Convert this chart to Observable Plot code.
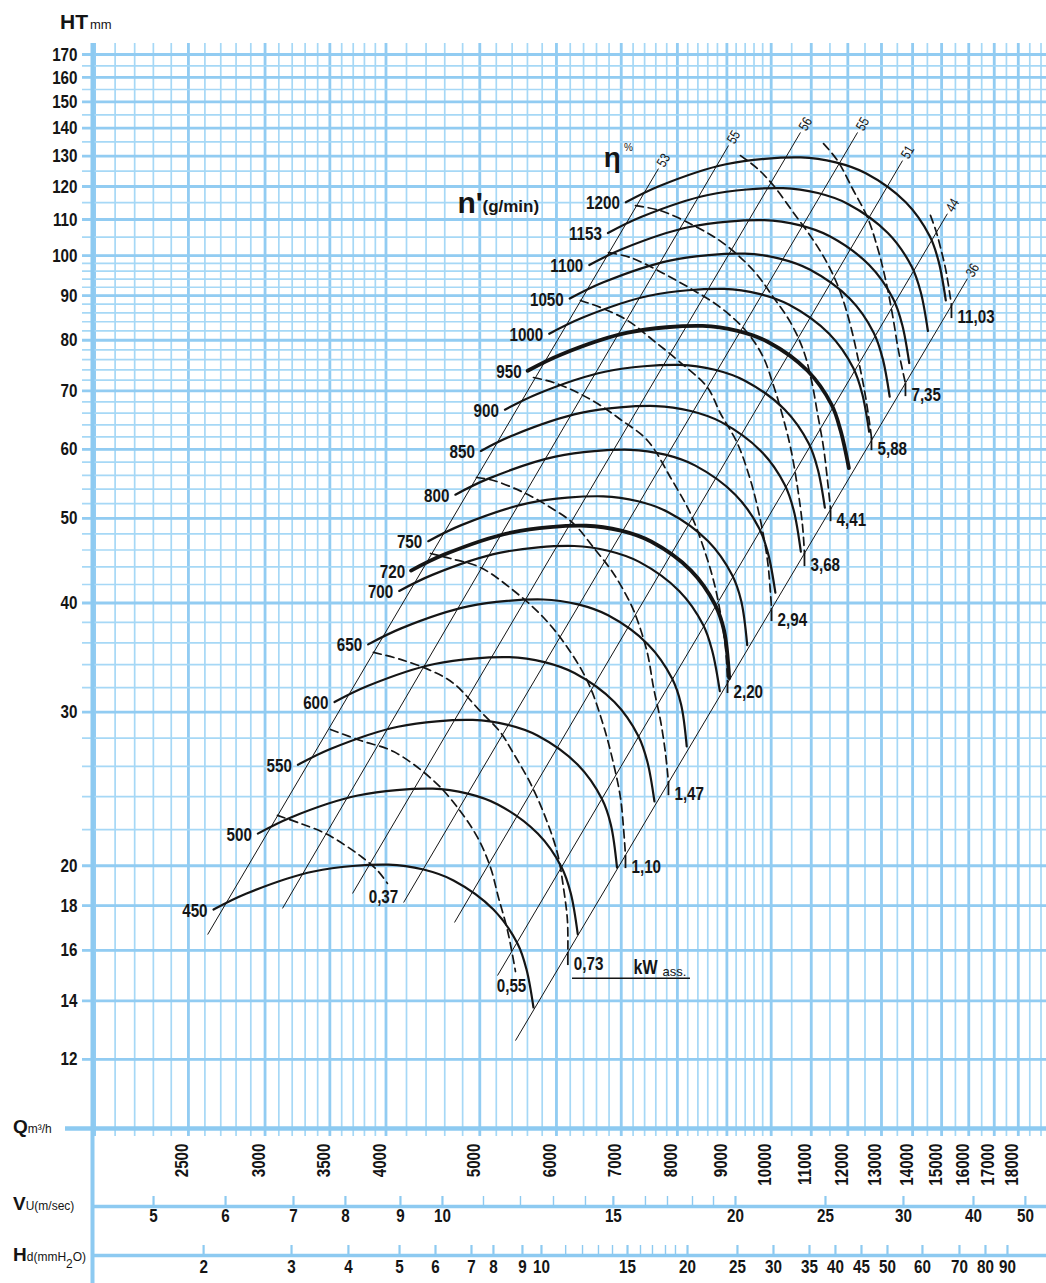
<!DOCTYPE html>
<html>
<head>
<meta charset="utf-8">
<script src="https://cdn.jsdelivr.net/npm/d3@7"></script>
<script src="https://cdn.jsdelivr.net/npm/@observablehq/plot@0.6"></script>
<style>
  html,body{margin:0;padding:0;background:#fff;}
  #wrap{position:relative;width:1046px;height:1283px;overflow:hidden;background:#fff;}
  #wrap svg{position:absolute;left:0;top:0;}
  .lab{position:absolute;z-index:2;color:#141414;white-space:nowrap;font-family:"Liberation Sans","DejaVu Sans",sans-serif;font-weight:bold;line-height:1;}
  .lab span{font-weight:normal;font-size:12px;}
</style>
</head>
<body>
<div id="wrap">
  <div class="lab" style="left:60px;top:11px;font-size:21px;">HT<span style="font-size:13px;margin-left:2px;">mm</span></div>
  <div class="lab" style="left:13px;top:1117px;font-size:19px;">Q<span>m³/h</span></div>
  <div class="lab" style="left:13px;top:1194px;font-size:19px;">V<span>U(m/sec)</span></div>
  <div class="lab" style="left:13px;top:1245px;font-size:19px;">H<span>d(mmH<sub style="font-size:12px;vertical-align:-7px;">2</sub>O)</span></div>
</div>
<script>
// ---------- axis / tick values ----------
const qLabels = [2500,3000,3500,4000,5000,6000,7000,8000,9000,10000,11000,12000,13000,14000,15000,16000,17000,18000];
const hLabels = [12,14,16,18,20,30,40,50,60,70,80,90,100,110,120,130,140,150,160,170];
const qGridMinor = d3.range(2000,4000,100).concat(d3.range(4000,10000,200), d3.range(10000,19500,500));
const qGridMajor = [2000,2500,3000,3500,4000,5000,6000,7000,8000,9000,10000,11000,12000,13000,14000,15000,16000,17000,18000];
const hGridMinor = d3.range(12,100,2).concat(d3.range(100,175,5));

// secondary scales below the chart (value -> position on the Q scale)
const vuValues = [5,6,7,8,9,10,11,12,13,14,15,16,17,18,19,20,25,30,40,50];
const vuQ      = [2301,2731,3210,3632,4140,4575,5044,5508,5958,6429,6870,7415,7814,8293,8718,9186,11379,13698,16181,18307];
const vuShown  = [5,6,7,8,9,10,15,20,25,30,40,50];
const hdValues = [2,3,4,5,6,7,8,9,10,11,12,13,14,15,16,17,18,19,20,25,30,35,40,45,50,60,70,80,90];
const hdQ      = [2592,3195,3658,4131,4500,4902,5165,5534,5790,6133,6384,6631,6856,7105,7328,7540,7777,7964,8195,9229,10055,10954,11652,12396,13187,14331,15650,16649,17543];
const hdShown  = [2,3,4,5,6,7,8,9,10,15,20,25,30,35,40,45,50,60,70,80,90];

// ---------- efficiency lines (eta %) ----------
const etaLabels = ["53","55","56","55","51","44","36"];
const etaQ1 = [2617,3127,3694,4171,4708,5215,5443];
const etaH1 = [16.68,17.87,18.59,18.15,17.22,14.97,12.61];
const etaQ2 = [7648,9035,10722,12281,13668,15208,15949];
const etaH2 = [125.8,133.7,138.4,138.4,128.5,111.7,94.1];

// ---------- speed curves n' (rpm): [Q m3/h, HT mm] ----------
const speedLabels = ["450","500","550","600","650","700","720","750","800","850","900","950","1000","1050","1100","1153","1200"];
const boldSpeeds = ["720","950"];
const curve450 = [[2654,17.82],[2871,18.59],[3367,19.70],[4024,20.06],[4373,19.80],[4697,19.24],[5165,17.82],[5469,16.29],[5587,15.22],[5681,13.76]];
const curve500 = [[2949,21.77],[3190,22.72],[3741,24.07],[4471,24.51],[4859,24.19],[5219,23.51],[5739,21.77],[6077,19.90],[6208,18.60],[6312,16.70]];
const curve550 = [[3244,26.10],[3509,27.23],[4115,28.86],[4918,29.38],[5345,29.00],[5741,28.18],[6313,26.10],[6684,23.86],[6829,22.29],[6930,19.90]];
const curve600 = [[3539,30.80],[3828,32.13],[4489,34.05],[5365,34.67],[5831,34.22],[6263,33.25],[6887,30.80],[7292,28.15],[7449,26.31],[7575,23.70]];
const curve650 = [[3834,35.86],[4147,37.41],[4863,39.64],[5812,40.37],[6317,39.85],[6785,38.72],[7461,35.86],[7900,32.78],[8070,30.63],[8180,27.40]];
const curve700 = [[4128,41.29],[4466,43.08],[5238,45.65],[6260,46.49],[6802,45.88],[7306,44.58],[8034,41.29],[8507,37.75],[8691,35.27],[8850,31.70]];
const curve720 = [[4246,43.57],[4594,45.45],[5387,48.16],[6438,49.04],[6997,48.41],[7515,47.04],[8264,43.57],[8750,39.83],[8939,37.21],[9050,32.80]];
const curve750 = [[4423,47.08],[4785,49.12],[5612,52.05],[6707,53.00],[7288,52.31],[7828,50.83],[8608,47.08],[9115,43.04],[9312,40.21],[9446,35.80]];
const curve800 = [[4718,53.23],[5104,55.53],[5986,58.85],[7154,59.92],[7774,59.15],[8350,57.47],[9182,53.23],[9723,48.66],[9932,45.47],[10100,41.10]];
const curve850 = [[5013,59.74],[5423,62.32],[6360,66.04],[7601,67.25],[8260,66.38],[8872,64.50],[9756,59.74],[10330,54.61],[10553,51.02],[10731,45.80]];
const curve900 = [[5308,66.60],[5742,69.48],[6734,73.62],[8048,74.97],[8746,74.00],[9394,71.90],[10330,66.60],[10938,60.88],[11174,56.88],[11362,51.43]];
const curve950 = [[5603,73.81],[6061,77.00],[7108,81.60],[8495,83.09],[9232,82.01],[9916,79.69],[10904,73.81],[11546,67.48],[11795,63.04],[12030,57.10]];
const curve1000 = [[5898,81.38],[6380,84.89],[7482,89.96],[8942,91.61],[9718,90.42],[10438,87.86],[11478,81.38],[12153,74.39],[12416,69.50],[12624,62.84]];
const curve1050 = [[6193,89.29],[6699,93.15],[7856,98.71],[9389,100.51],[10204,99.21],[10960,96.40],[12052,89.29],[12761,81.62],[13036,76.26],[13256,68.95]];
const curve1100 = [[6488,97.55],[7018,101.77],[8230,107.84],[9836,109.81],[10690,108.39],[11482,105.32],[12626,97.55],[13369,89.18],[13657,83.32],[13887,75.33]];
const curve1150 = [[6782,106.16],[7337,110.74],[8604,117.36],[10284,119.50],[11175,117.95],[12003,114.62],[13199,106.16],[13976,97.04],[14278,90.67],[14518,81.97]];
const curve1200 = [[7077,115.11],[7656,120.08],[8979,127.25],[10731,129.58],[11661,127.90],[12525,124.28],[13773,115.11],[14584,105.22],[14899,98.31],[15149,88.88]];
const speedCurves = [curve450,curve500,curve550,curve600,curve650,curve700,curve720,curve750,curve800,curve850,curve900,curve950,curve1000,curve1050,curve1100,curve1150,curve1200];

// ---------- absorbed power curves kW (dashed): [Q, HT] ----------
const kwLabels = ["0,37","0,55","0,73","1,10","1,47","2,20","2,94","3,68","4,41","5,88","7,35","11,03"];
const kw037 = [[3090,22.84],[3264,22.36],[3463,21.78],[3632,21.10],[3782,20.44],[3920,19.75],[4014,19.09]];
const kw055 = [[3505,28.65],[3764,27.83],[4072,27.03],[4478,25.04],[4742,23.32],[4973,21.55],[5129,19.91],[5227,18.39],[5341,16.86],[5443,15.13]];
const kw073 = [[3882,35.11],[4140,34.47],[4447,33.48],[4697,32.36],[5008,30.05],[5252,28.43],[5417,26.90],[5641,24.85],[5845,22.72],[6015,20.66],[6101,18.88],[6159,17.31],[6165,15.91]];
const kw110 = [[4447,45.58],[4663,44.98],[5008,43.92],[5417,41.34],[5818,38.50],[6159,35.57],[6475,32.36],[6710,28.95],[6872,26.19],[6987,23.94],[7037,22.13],[7071,20.55]];
const kw147 = [[4961,55.70],[5165,55.26],[5548,53.54],[5915,51.46],[6248,49.33],[6552,46.31],[6872,43.24],[7156,39.94],[7276,38.20],[7451,35.01],[7558,32.02],[7685,29.34],[7777,26.90],[7832,24.91]];
const kw220 = [[5681,72.51],[5958,71.56],[6307,69.70],[6663,67.35],[6987,64.91],[7451,61.41],[7870,55.70],[8253,50.65],[8512,46.31],[8718,42.45],[8864,38.91],[8970,35.57],[9013,32.61]];
const kw294 = [[6353,88.85],[6663,87.22],[7105,84.28],[7558,79.93],[8059,75.42],[8594,70.62],[8864,65.94],[9229,60.92],[9521,55.26],[9749,49.73],[9913,44.74],[9984,41.02],[10008,39.43]];
const kw368 = [[6791,100.8],[7156,99.50],[7740,95.40],[8253,91.70],[8864,87.22],[9407,82.09],[9795,76.83],[10055,70.99],[10273,65.59],[10471,60.28],[10647,54.25],[10774,49.07],[10824,45.58]];
const kw441 = [[7241,114.1],[7685,112.6],[8392,107.7],[8928,103.3],[9587,96.16],[10055,89.56],[10471,83.84],[10799,77.85],[11006,71.94],[11165,65.94],[11326,60.28],[11434,55.26],[11516,51.32]];
const kw588 = [[9296,130.2],[9679,125.8],[10055,120.3],[10544,112.0],[11058,104.1],[11460,97.43],[11792,90.74],[12076,83.18],[12308,75.82],[12485,70.06],[12604,65.59],[12694,61.90]];
const kw735 = [[11326,134.4],[11708,128.5],[12162,118.75],[12574,110.6],[12876,102.2],[13062,96.16],[13218,90.51],[13376,84.28],[13536,77.85],[13763,71.37]];
const kw1103 = [[14607,111.2],[14817,106.3],[14958,102.2],[15138,96.68],[15246,92.43],[15355,87.68]];
const kwCurves = [kw037,kw055,kw073,kw110,kw147,kw220,kw294,kw368,kw441,kw588,kw735,kw1103];
// lower end of the short tick drawn at the end of each power curve (HT)
const kwTickLow = [null,null,15.37,19.85,24.06,31.50,38.09,44.03,49.57,59.79,68.94,84.70];

// ---------- tables ----------
const speedRows = speedCurves.flatMap((pts,i)=>pts.map(([q,h])=>({q,h,n:speedLabels[i]})));
const speedStarts = speedCurves.map((pts,i)=>({q:pts[0][0],h:pts[0][1],n:speedLabels[i]}));
const kwRows = kwCurves.flatMap((pts,i)=>pts.map(([q,h])=>({q,h,k:kwLabels[i]})));
const kwEnds = kwCurves.map((pts,i)=>({q:pts[pts.length-1][0],h:pts[pts.length-1][1],k:kwLabels[i],low:kwTickLow[i]}));
const etaRows = etaLabels.map((t,i)=>({t,q1:etaQ1[i],h1:etaH1[i],q2:etaQ2[i],h2:etaH2[i]}));
const vuRows = vuValues.map((v,i)=>({v,q:vuQ[i],shown:vuShown.includes(v)}));
const hdRows = hdValues.map((v,i)=>({v,q:hdQ[i],shown:hdShown.includes(v)}));

const FONT = '"Liberation Sans",Arial,sans-serif';
const INK = "#151515";
const GRID = "#a6d8f6";
const GRID2 = "#92ccf2";
const AXIS = "#8dcaf1";

const chart = Plot.plot({
  width: 1046, height: 1283,
  marginLeft: 92, marginRight: 0, marginTop: 43, marginBottom: 155,
  x: {type: "log", domain: [1990, 19250], axis: null},
  y: {type: "log", domain: [10, 175], axis: null},
  style: {fontFamily: FONT, background: "white", color: INK},
  marks: [
    // grid
    Plot.ruleX(qGridMinor, {stroke: GRID, strokeWidth: 1.7, insetBottom: -8}),
    Plot.ruleX(qGridMajor, {stroke: GRID2, strokeWidth: 2.8, insetBottom: -8}),
    Plot.ruleY(hGridMinor, {stroke: GRID, strokeWidth: 1.7, insetLeft: -10}),
    Plot.ruleY(hLabels, {stroke: GRID2, strokeWidth: 2.8, insetLeft: -10}),
    // axis lines
    Plot.ruleX([1990], {stroke: AXIS, strokeWidth: 4, insetBottom: -155}),
    Plot.ruleY([10], {stroke: AXIS, strokeWidth: 4.5, insetLeft: -27}),
    Plot.ruleY([10], {stroke: AXIS, strokeWidth: 3.5, dy: 78}),
    Plot.ruleY([10], {stroke: AXIS, strokeWidth: 3.5, dy: 127}),
    // secondary scale ticks
    Plot.ruleX(vuRows, {x: "q", stroke: AXIS, strokeWidth: d => d.shown ? 2.2 : 1.4, insetTop: 1085 + 78 - 10, insetBottom: -79}),
    Plot.ruleX(hdRows, {x: "q", stroke: AXIS, strokeWidth: d => d.shown ? 2.2 : 1.4, insetTop: 1085 + 127 - 10, insetBottom: -128}),
    // y tick labels
    Plot.text(hLabels, {y: d => d, text: d => String(d), frameAnchor: "left", dx: -15, textAnchor: "end", fontSize: 19, fontWeight: "bold", fill: INK}),
    // Q labels (rotated)
    Plot.text(qLabels, {x: d => d, text: d => String(d), frameAnchor: "bottom", dy: 15, rotate: -90, textAnchor: "end", fontSize: 19, fontWeight: "bold", fill: INK}),
    // Vu / Hd labels
    Plot.text(vuRows.filter(d => d.shown), {x: "q", text: d => String(d.v), frameAnchor: "bottom", dy: 93, fontSize: 19, fontWeight: "bold", fill: INK}),
    Plot.text(hdRows.filter(d => d.shown), {x: "q", text: d => String(d.v), frameAnchor: "bottom", dy: 144, fontSize: 19, fontWeight: "bold", fill: INK}),
    // efficiency lines
    Plot.link(etaRows, {x1: "q1", y1: "h1", x2: "q2", y2: "h2", stroke: INK, strokeWidth: 1}),
    Plot.text(etaRows, {x: "q2", y: "h2", text: "t", rotate: -59.5, textAnchor: "start", dx: 2, dy: -3, fontSize: 14, fill: INK}),
    // power curves (dashed)
    Plot.line(kwRows, {x: "q", y: "h", z: "k", curve: "catmull-rom", stroke: INK, strokeWidth: 1.7, strokeDasharray: "8,5"}),
    Plot.ruleX(kwEnds.filter(d => d.low), {x: "q", y1: "h", y2: "low", stroke: INK, strokeWidth: 1.8}),
    Plot.text(kwEnds.filter(d => d.low), {x: "q", y: "low", text: "k", dx: 6, dy: -2, textAnchor: "start", fontSize: 19, fontWeight: "bold", fill: INK}),
    Plot.text(kwEnds.filter(d => !d.low), {x: "q", y: "h", text: "k", dx: -4, dy: 14, fontSize: 19, fontWeight: "bold", fill: INK}),
    // speed curves
    Plot.line(speedRows.filter(d => !boldSpeeds.includes(d.n)), {x: "q", y: "h", z: "n", curve: "catmull-rom", stroke: INK, strokeWidth: 2.2}),
    Plot.line(speedRows.filter(d => boldSpeeds.includes(d.n)), {x: "q", y: "h", z: "n", curve: "catmull-rom", stroke: INK, strokeWidth: 3.8}),
    Plot.text(speedStarts, {x: "q", y: "h", text: "n", dx: -6, dy: 1, textAnchor: "end", fontSize: 19, fontWeight: "bold", fill: INK}),
    // annotations
    Plot.text([{t: "η", q: 6853, h: 129.5}], {x: "q", y: "h", text: "t", fontSize: 28, fontWeight: "bold", fill: INK}),
    Plot.text([{t: "%", q: 7122, h: 133.0}], {x: "q", y: "h", text: "t", fontSize: 10, fill: INK}),
    Plot.text([{t: "n'", q: 4742, h: 114.8}], {x: "q", y: "h", text: "t", textAnchor: "start", fontSize: 30, fontWeight: "bold", fill: INK}),
    Plot.text([{t: "(g/min)", q: 5032, h: 113.8}], {x: "q", y: "h", text: "t", textAnchor: "start", fontSize: 17, fontWeight: "bold", fill: INK}),
    Plot.text([{t: "kW", q: 7207, h: 15.29}], {x: "q", y: "h", text: "t", textAnchor: "start", fontSize: 20, fontWeight: "bold", fill: INK}),
    Plot.text([{t: "ass.", q: 7722, h: 15.12}], {x: "q", y: "h", text: "t", textAnchor: "start", fontSize: 13, fill: INK}),
    Plot.ruleY([{h: 14.86, q1: 6234, q2: 8253}], {y: "h", x1: "q1", x2: "q2", stroke: INK, strokeWidth: 1.5})
  ]
});

// condensed lettering like the printed chart (horizontal squeeze of each label around its anchor)
const keepWide = new Set(["η", "%", "n'", "(g/min)", "ass."]);
d3.select(chart).selectAll("text").each(function() {
  if (keepWide.has(this.textContent)) return;
  const t = this.getAttribute("transform");
  if (t) this.setAttribute("transform", t + " scale(0.8,1)");
});
document.getElementById("wrap").appendChild(chart);
</script>
</body>
</html>
